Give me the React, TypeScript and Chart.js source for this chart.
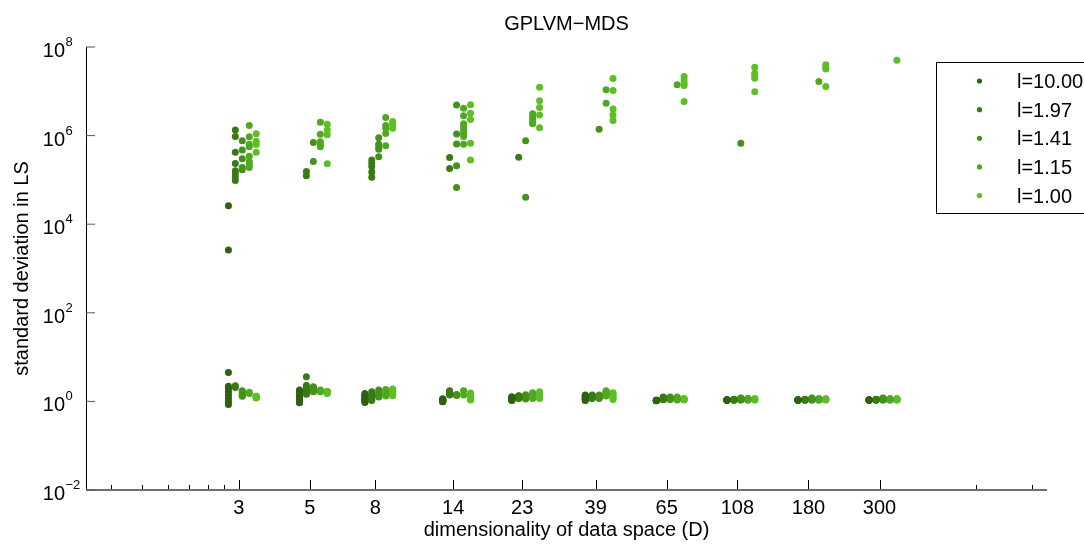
import React, { useEffect, useRef } from 'react';
import { Chart, registerables } from 'chart.js';

Chart.register(...registerables);

const TITLE = 'GPLVM\u2212MDS';
const X_TITLE = 'dimensionality of data space (D)';
const Y_TITLE = 'standard deviation in LS';

const dims = [3, 5, 8, 14, 23, 39, 65, 108, 180, 300];
const minorTicks = [1.2, 1.5, 1.8, 2.1, 2.4, 2.7, 600, 900];
const yExponents = [-2, 0, 2, 4, 6, 8];
const seriesLabels = ['l=10.00', 'l=1.97', 'l=1.41', 'l=1.15', 'l=1.00'];
const seriesColors = ['#2d6310', '#3a7a14', '#45911b', '#50a821', '#5bbf25'];
// each series is drawn slightly shifted along D so the five groups sit side by side
const seriesShift = [0.928, 0.975, 1.025, 1.078, 1.133];

// values per D (index follows dims), 10 runs each
const sdL1000 = [
  [2.6e4, 2.6e3, 4.5, 2.2, 1.95, 1.65, 1.4, 1.17, 0.98, 0.85],
  [1.8, 1.7, 1.6, 1.4, 1.25, 1.15, 1.05, 1.0, 0.95, 0.93],
  [1.5, 1.4, 1.35, 1.25, 1.2, 1.15, 1.1, 1.02, 1.0, 0.95],
  [1.15, 1.12, 1.1, 1.08, 1.06, 1.05, 1.02, 1.0, 0.99, 0.98],
  [1.27, 1.22, 1.2, 1.18, 1.15, 1.12, 1.1, 1.08, 1.06, 1.05],
  [1.39, 1.35, 1.3, 1.25, 1.2, 1.15, 1.12, 1.1, 1.08, 1.05],
  [1.06, 1.05, 1.05, 1.04, 1.06, 1.05, 1.04, 1.05, 1.06, 1.05],
  [1.07, 1.07, 1.06, 1.08, 1.07, 1.06, 1.07, 1.08, 1.07, 1.06],
  [1.07, 1.06, 1.07, 1.08, 1.07, 1.07, 1.06, 1.07, 1.08, 1.07],
  [1.07, 1.07, 1.06, 1.07, 1.08, 1.07, 1.06, 1.07, 1.07, 1.08],
];
const sdL197 = [
  [1.34e6, 9.6e5, 4.2e5, 2.35e5, 1.6e5, 1.4e5, 1.17e5, 9.7e4, 2.25, 2.05],
  [1.55e5, 1.24e5, 3.6, 2.3, 2.0, 1.8, 1.7, 1.6, 1.5, 1.45],
  [2.8e5, 2.4e5, 2.0e5, 1.5e5, 1.15e5, 1.65, 1.45, 1.3, 1.15, 1.05],
  [3.2e5, 1.8e5, 1.75, 1.7, 1.65, 1.6, 1.55, 1.5, 1.45, 1.4],
  [3.25e5, 1.35, 1.32, 1.3, 1.28, 1.25, 1.22, 1.2, 1.19, 1.17],
  [1.39, 1.35, 1.33, 1.3, 1.28, 1.25, 1.22, 1.2, 1.19, 1.17],
  [1.25, 1.22, 1.2, 1.18, 1.16, 1.15, 1.14, 1.12, 1.11, 1.1],
  [1.12, 1.1, 1.09, 1.08, 1.07, 1.08, 1.1, 1.07, 1.09, 1.08],
  [1.12, 1.1, 1.09, 1.08, 1.07, 1.08, 1.1, 1.07, 1.09, 1.11],
  [1.12, 1.1, 1.09, 1.08, 1.07, 1.08, 1.1, 1.07, 1.09, 1.11],
];
const sdL141 = [
  [7.7e5, 4.75e5, 3.0e5, 1.9e5, 1.7e5, 1.75, 1.6, 1.45, 1.35, 1.3],
  [7.0e5, 2.6e5, 2.15, 2.05, 2.0, 1.9, 1.85, 1.75, 1.7, 1.65],
  [9.0e5, 6.4e5, 5.6e5, 4.9e5, 3.35e5, 1.8, 1.6, 1.45, 1.3, 1.25],
  [4.9e6, 1.09e6, 6.5e5, 2.1e5, 6.7e4, 1.42, 1.41, 1.4, 1.39, 1.38],
  [7.7e5, 4.06e4, 1.42, 1.38, 1.33, 1.3, 1.25, 1.2, 1.18, 1.13],
  [1.39e6, 1.39, 1.35, 1.32, 1.28, 1.25, 1.22, 1.2, 1.17, 1.3],
  [1.25, 1.22, 1.2, 1.18, 1.16, 1.15, 1.14, 1.12, 1.1, 1.13],
  [6.7e5, 1.2, 1.17, 1.15, 1.12, 1.1, 1.08, 1.07, 1.13, 1.18],
  [1.2, 1.17, 1.15, 1.12, 1.1, 1.08, 1.07, 1.13, 1.18, 1.1],
  [1.2, 1.17, 1.15, 1.12, 1.1, 1.08, 1.07, 1.13, 1.18, 1.1],
];
const sdL115 = [
  [1.68e6, 9.4e5, 6.4e5, 5.6e5, 3.4e5, 2.6e5, 2.25e5, 1.9e5, 1.6, 1.5],
  [2.0e6, 1.07e6, 7.3e5, 6.4e5, 5.6e5, 1.8, 1.75, 1.72, 1.7, 1.65],
  [2.55e6, 1.68e6, 1.47e6, 1.11e6, 5.9e5, 1.85, 1.65, 1.5, 1.4, 1.32],
  [4.15e6, 2.8e6, 1.84e6, 1.6e6, 1.34e6, 1.13e6, 9.5e5, 6.4e5, 1.75, 1.4],
  [3.1e6, 2.7e6, 2.35e6, 2.0e6, 1.84e6, 1.57, 1.45, 1.3, 1.22, 1.17],
  [1.08e7, 5.4e6, 1.73, 1.65, 1.6, 1.55, 1.5, 1.45, 1.4, 1.32],
  [1.4e7, 1.25, 1.2, 1.18, 1.16, 1.15, 1.12, 1.1, 1.08, 1.1],
  [1.17, 1.15, 1.12, 1.1, 1.08, 1.07, 1.09, 1.13, 1.16, 1.11],
  [1.66e7, 1.15, 1.13, 1.12, 1.1, 1.08, 1.07, 1.09, 1.11, 1.14],
  [1.15, 1.13, 1.12, 1.1, 1.08, 1.07, 1.09, 1.11, 1.14, 1.12],
];
const sdL100 = [
  [1.1e6, 7.5e5, 6.3e5, 4.2e5, 1.3, 1.28, 1.25, 1.22, 1.2, 1.3],
  [1.8e6, 1.34e6, 1.04e6, 2.33e5, 1.7, 1.65, 1.6, 1.58, 1.55, 1.5],
  [2.07e6, 1.8e6, 1.47e6, 1.9, 1.75, 1.7, 1.6, 1.55, 1.45, 1.35],
  [5.0e6, 3.2e6, 2.3e6, 6.7e5, 2.8e5, 1.55, 1.4, 1.25, 1.12, 1.07],
  [1.24e7, 6.1e6, 4.3e6, 2.9e6, 1.5e6, 1.65, 1.5, 1.35, 1.25, 1.17],
  [1.94e7, 1.04e7, 4.0e6, 2.9e6, 2.2e6, 1.57, 1.45, 1.3, 1.2, 1.1],
  [2.15e7, 1.81e7, 1.52e7, 1.35e7, 5.9e6, 1.17, 1.14, 1.12, 1.1, 1.07],
  [3.5e7, 2.57e7, 2.3e7, 1.98e7, 9.8e6, 1.17, 1.14, 1.12, 1.09, 1.07],
  [3.95e7, 3.6e7, 3.2e7, 1.28e7, 1.15, 1.13, 1.1, 1.09, 1.07, 1.12],
  [5.05e7, 1.15, 1.13, 1.12, 1.1, 1.09, 1.07, 1.11, 1.14, 1.08],
];
const seriesValues = [sdL1000, sdL197, sdL141, sdL115, sdL100];

const FONT = '"Liberation Sans", Arial, Helvetica, sans-serif';

const matlabAxes = {
  id: 'matlabAxes',
  beforeDatasetsDraw(chart: any) {
    const { ctx, chartArea } = chart;
    const { left, right, top, bottom } = chartArea;
    const xs = chart.scales.x;
    const ys = chart.scales.y;
    ctx.save();
    // left axis line
    ctx.strokeStyle = '#000';
    ctx.lineWidth = 1;
    ctx.beginPath();
    ctx.moveTo(left + 0.5, top);
    ctx.lineTo(left + 0.5, bottom);
    ctx.stroke();
    // bottom axis line
    ctx.strokeStyle = '#707070';
    ctx.lineWidth = 2;
    ctx.beginPath();
    ctx.moveTo(left, bottom);
    ctx.lineTo(right, bottom);
    ctx.stroke();
    // x ticks (inward)
    ctx.strokeStyle = '#000';
    ctx.lineWidth = 1;
    for (const v of dims) {
      const px = Math.round(xs.getPixelForValue(v)) + 0.5;
      ctx.beginPath();
      ctx.moveTo(px, bottom - 1);
      ctx.lineTo(px, bottom - 10);
      ctx.stroke();
    }
    for (const v of minorTicks) {
      const px = Math.round(xs.getPixelForValue(v)) + 0.5;
      ctx.beginPath();
      ctx.moveTo(px, bottom - 1);
      ctx.lineTo(px, bottom - 5);
      ctx.stroke();
    }
    // y ticks (inward)
    ctx.strokeStyle = '#555';
    for (const e of yExponents) {
      const py = ys.getPixelForValue(Math.pow(10, e));
      ctx.beginPath();
      ctx.moveTo(left, py);
      ctx.lineTo(left + 9, py);
      ctx.stroke();
    }
    // y tick labels 10^e
    ctx.fillStyle = '#000';
    for (const e of yExponents) {
      const py = ys.getPixelForValue(Math.pow(10, e));
      ctx.font = '20px ' + FONT;
      ctx.textAlign = 'right';
      ctx.textBaseline = 'alphabetic';
      ctx.fillText('10', 65, py + 10);
      ctx.font = '13px ' + FONT;
      ctx.textAlign = 'left';
      ctx.fillText(e < 0 ? '\u2212' + Math.abs(e) : String(e), 65.5, py - 1);
    }
    ctx.restore();
  },
  afterDraw(chart: any) {
    const { ctx } = chart;
    ctx.save();
    const bx = 936.5, by = 62.5, bw = 170, bh = 151;
    ctx.fillStyle = '#fff';
    ctx.fillRect(bx, by, bw, bh);
    ctx.strokeStyle = '#000';
    ctx.lineWidth = 1;
    ctx.strokeRect(bx, by, bw, bh);
    ctx.font = '20px ' + FONT;
    ctx.textAlign = 'left';
    ctx.textBaseline = 'alphabetic';
    seriesLabels.forEach((lab, i) => {
      const ry = 81 + i * 28.65;
      ctx.fillStyle = seriesColors[i];
      ctx.beginPath();
      ctx.arc(979.5, ry, 2.6, 0, Math.PI * 2);
      ctx.fill();
      ctx.fillStyle = '#000';
      ctx.fillText(lab, 1017, ry + 7);
    });
    ctx.restore();
  },
};

export default function App() {
  const canvasRef = useRef<HTMLCanvasElement | null>(null);

  useEffect(() => {
    if (!canvasRef.current) return;
    const datasets = seriesLabels.map((label, s) => {
      const pts: { x: number; y: number }[] = [];
      seriesValues[s].forEach((vals, di) => {
        vals.forEach((v) => pts.push({ x: dims[di] * seriesShift[s], y: v }));
      });
      return {
        label,
        data: pts,
        backgroundColor: seriesColors[s],
        borderWidth: 0,
        pointRadius: 3.5,
        pointHoverRadius: 3.5,
      };
    });

    const chart = new Chart(canvasRef.current, {
      type: 'scatter',
      data: { datasets },
      options: {
        responsive: false,
        animation: false,
        devicePixelRatio: 1,
        events: [],
        layout: { padding: { left: 0, right: 37, top: 0, bottom: 0 } },
        plugins: {
          legend: { display: false },
          tooltip: { enabled: false },
          title: {
            display: true,
            text: TITLE,
            fullSize: false,
            color: '#000',
            font: { family: FONT, size: 20, weight: 'normal' },
            padding: { top: 12, bottom: 11 },
          },
        },
        scales: {
          x: {
            type: 'logarithmic',
            min: 1,
            max: 1000,
            grid: { display: false, drawTicks: false },
            border: { display: false },
            afterBuildTicks: (scale: any) => {
              scale.ticks = [...minorTicks, ...dims]
                .sort((a, b) => a - b)
                .map((v) => ({ value: v }));
            },
            afterFit: (scale: any) => {
              scale.height = 54;
            },
            ticks: {
              autoSkip: false,
              maxRotation: 0,
              minRotation: 0,
              padding: 6,
              color: '#000',
              font: { family: FONT, size: 20 },
              callback: (value: any) => (dims.includes(Number(value)) ? String(value) : ''),
            },
            title: {
              display: true,
              text: X_TITLE,
              color: '#000',
              font: { family: FONT, size: 20 },
              padding: { top: 0, bottom: 2 },
            },
          },
          y: {
            type: 'logarithmic',
            min: 1e-2,
            max: 1e8,
            grid: { display: false, drawTicks: false },
            border: { display: false },
            ticks: { display: false },
            afterFit: (scale: any) => {
              scale.width = 86;
            },
            title: {
              display: true,
              text: Y_TITLE,
              color: '#000',
              font: { family: FONT, size: 20 },
              padding: { top: 10, bottom: 0 },
            },
          },
        },
      },
      plugins: [matlabAxes],
    } as any);

    return () => chart.destroy();
  }, []);

  return (
    <div style={{ position: 'absolute', left: 0, top: 0, width: 1084, height: 544, background: '#fff', overflow: 'hidden' }}>
      <canvas ref={canvasRef} width={1084} height={544} style={{ display: 'block' }} />
    </div>
  );
}
